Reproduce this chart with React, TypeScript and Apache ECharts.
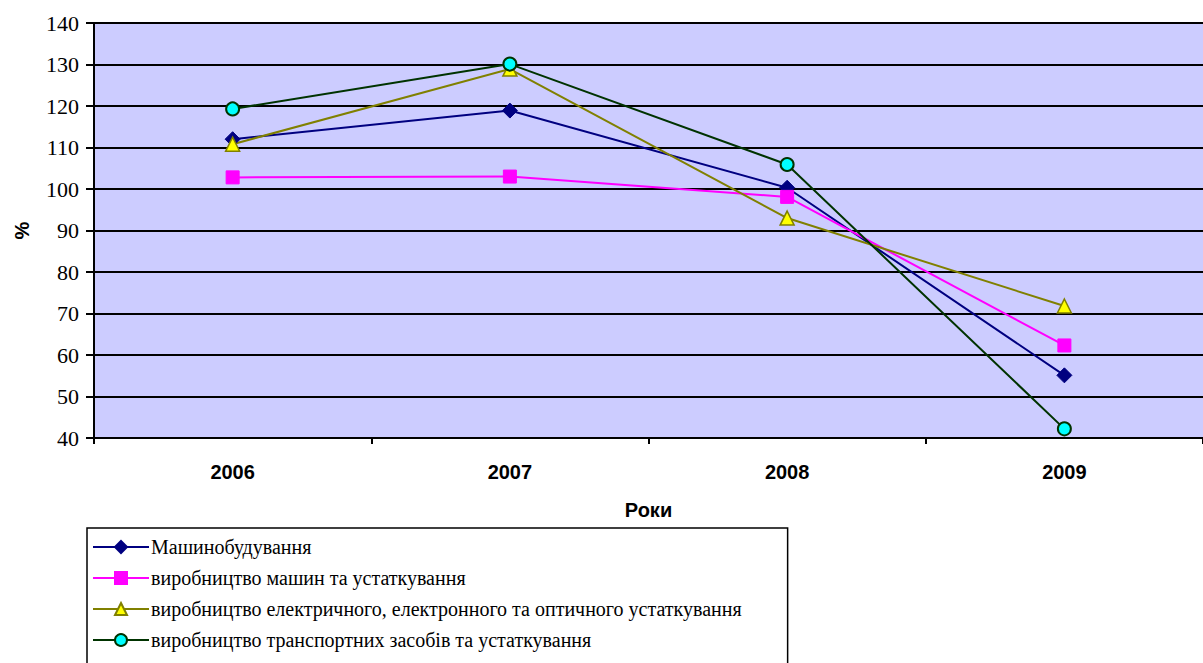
import React, { useEffect, useRef } from "react";
import * as echarts from "echarts";

const years = ["2006", "2007", "2008", "2009"];
const yTicks = { min: 40, max: 140, interval: 10 };

const seriesNames = [
  "Машинобудування",
  "виробництво машин та устаткування",
  "виробництво електричного, електронного та оптичного устаткування",
  "виробництво транспортних засобів та устаткування",
];

const machineBuilding = [112.0, 118.9, 100.3, 55.1];
const machinesEquipment = [102.8, 103.0, 98.1, 62.3];
const electrical = [110.8, 128.9, 93.0, 71.8];
const transport = [119.3, 130.1, 105.9, 42.2];

const SERIF = "'Liberation Serif', 'Times New Roman', serif";
const SANS = "'Liberation Sans', Arial, sans-serif";

export default function App() {
  const ref = useRef<HTMLDivElement>(null);

  useEffect(() => {
    if (!ref.current) return;
    const chart = echarts.init(ref.current, null, { renderer: "svg" });

    const mk = (
      name: string,
      data: number[],
      lineColor: string,
      symbol: string,
      symbolSize: number,
      fill: string,
      border: string,
      borderWidth: number
    ) => ({
      name,
      type: "line",
      data,
      symbol,
      symbolSize,
      lineStyle: { color: lineColor, width: 2 },
      itemStyle: { color: fill, borderColor: border, borderWidth },
      z: 3,
    });

    chart.setOption({
      animation: false,
      backgroundColor: "#ffffff",
      textStyle: { fontFamily: SERIF },
      grid: {
        left: 94,
        top: 23,
        width: 1120,
        height: 415,
        show: true,
        backgroundColor: "#CCCCFF",
        borderWidth: 0,
      },
      xAxis: {
        type: "category",
        data: years,
        boundaryGap: true,
        name: "Роки",
        nameLocation: "middle",
        nameGap: 62,
        nameTextStyle: {
          fontFamily: SANS,
          fontWeight: "bold",
          fontSize: 20,
          color: "#000",
        },
        axisLine: { lineStyle: { color: "#000", width: 2 } },
        axisTick: { show: true, interval: 0, length: 6, lineStyle: { color: "#000", width: 2 } },
        axisLabel: {
          margin: 24,
          fontFamily: SANS,
          fontWeight: "bold",
          fontSize: 20,
          color: "#000",
        },
        splitLine: { show: false },
      },
      yAxis: {
        type: "value",
        min: yTicks.min,
        max: yTicks.max,
        interval: yTicks.interval,
        name: "%",
        nameLocation: "middle",
        nameGap: 62,
        nameRotate: 90,
        nameTextStyle: {
          fontFamily: SANS,
          fontWeight: "bold",
          fontSize: 20,
          color: "#000",
        },
        axisLine: { show: true, lineStyle: { color: "#000", width: 2 } },
        axisTick: { show: true, length: 8, lineStyle: { color: "#000", width: 2 } },
        axisLabel: {
          margin: 15,
          fontFamily: SERIF,
          fontSize: 22,
          color: "#000",
        },
        splitLine: { show: true, lineStyle: { color: "#000", width: 2 } },
      },
      legend: {
        orient: "vertical",
        left: 87,
        top: 528,
        height: 300,
        padding: [9, 46, 40, 5],
        itemGap: 11,
        itemWidth: 56,
        itemHeight: 15,
        backgroundColor: "#ffffff",
        borderColor: "#000",
        borderWidth: 1.5,
        borderRadius: 0,
        textStyle: {
          fontFamily: SERIF,
          fontSize: 20,
          color: "#000",
          padding: [0, 0, 0, -3],
        },
        data: seriesNames,
      },
      series: [
        mk(seriesNames[0], machineBuilding, "#000080", "diamond", 15, "#000080", "#000080", 1),
        mk(seriesNames[1], machinesEquipment, "#FF00FF", "rect", 13, "#FF00FF", "#FF00FF", 1),
        mk(seriesNames[2], electrical, "#808000", "triangle", 14, "#FFFF00", "#808000", 1.5),
        mk(seriesNames[3], transport, "#003300", "circle", 13, "#00FFFF", "#003300", 2),
      ],
    });

    return () => chart.dispose();
  }, []);

  return (
    <div
      ref={ref}
      style={{ position: "fixed", left: 0, top: 0, width: 1203, height: 663 }}
    />
  );
}
